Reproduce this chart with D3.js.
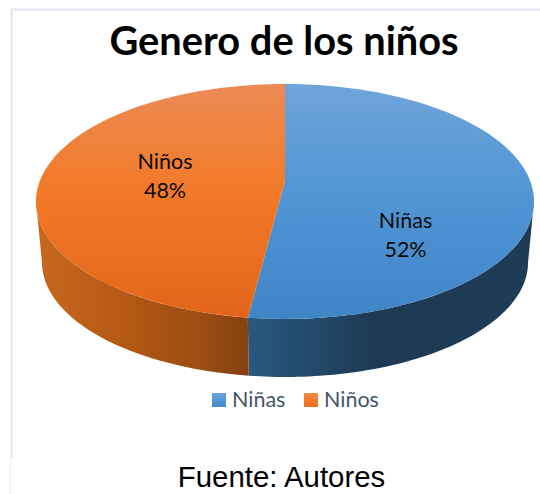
<!DOCTYPE html>
<html>
<head>
<meta charset="utf-8">
<script src="https://cdn.jsdelivr.net/npm/d3@7"></script>
<style>
  html, body { margin: 0; padding: 0; background: #fff; }
  svg { display: block; }
</style>
</head>
<body>
<svg width="540" height="494"></svg>
<script>
var categories = ["Niñas", "Niños"];
var values = [52, 48];
var percentLabels = ["52%", "48%"];

var svg = d3.select("svg");
var defs = svg.append("defs");

// the top face is a circle seen in perspective, so the pie centre
// sits above the middle of the ellipse
var cx = 285, centreY = 181;
var b = 245.2, a = 113.9, k = 0.1745;
var wallShrink = 0.976, wallCentreY = 242.3;

function project(theta, scale, y0) {
  var u = Math.sin(theta), v = -Math.cos(theta);
  var w = 1 / (1 - k * v);
  return [cx + scale * b * u * w, y0 + scale * a * v * w];
}

function arcPoints(t0, t1, scale, y0) {
  var n = 80;
  return d3.range(n + 1).map(function(i) {
    return project(t0 + (t1 - t0) * i / n, scale, y0);
  });
}

var line = d3.line();
var arcs = d3.pie().sort(null)(values);

// silhouette of the wall: where the ellipse is widest
var wallStart = Math.acos(-k), wallEnd = 2 * Math.PI - wallStart;

function gradient(id, horizontal, stops, userSpace) {
  var g = defs.append("linearGradient").attr("id", id)
    .attr("x1", 0).attr("y1", 0)
    .attr("x2", horizontal ? 1 : 0).attr("y2", horizontal ? 0 : 1);
  if (userSpace) {
    g.attr("gradientUnits", "userSpaceOnUse")
      .attr("x1", userSpace[0]).attr("x2", userSpace[1])
      .attr("y1", 0).attr("y2", 0);
  }
  stops.forEach(function(s) {
    g.append("stop").attr("offset", s[0]).attr("stop-color", s[1]);
  });
}

gradient("topBlue", false, [[0, "#70a4d9"], [0.45, "#5296d6"], [1, "#3f84c5"]]);
gradient("topOrange", false, [[0, "#ec8a55"], [0.45, "#f27a28"], [1, "#e4651a"]]);
gradient("wallBlue", true, [[0, "#28587f"], [0.45, "#1d3a55"], [1, "#1f3c57"]], [249, 530]);
gradient("wallOrange", true, [[0, "#c8681e"], [0.45, "#b25714"], [0.75, "#9c4e12"], [1, "#864010"]], [38, 249]);
gradient("legBlue", false, [[0, "#6aa4dd"], [1, "#4488cc"]]);
gradient("legOrange", false, [[0, "#f78a42"], [1, "#ec6e1c"]]);

var topFill = ["url(#topBlue)", "url(#topOrange)"];
var wallFill = ["url(#wallBlue)", "url(#wallOrange)"];
var legendFill = ["url(#legBlue)", "url(#legOrange)"];

// frame left over from the document
svg.append("path")
  .attr("d", "M11.5,458V9.5H540")
  .attr("fill", "none")
  .attr("stroke", "#e0e5ef")
  .attr("stroke-width", 2);
svg.append("line")
  .attr("x1", 10.5).attr("x2", 10.5).attr("y1", 458).attr("y2", 494)
  .attr("stroke", "#f0f0f0");

// walls
svg.append("g").selectAll("path")
  .data(arcs)
  .enter().append("path")
    .attr("fill", function(d, i) { return wallFill[i]; })
    .attr("d", function(d) {
      var t0 = Math.max(d.startAngle, wallStart), t1 = Math.min(d.endAngle, wallEnd);
      var pts = arcPoints(t0, t1, 1, centreY)
        .concat(arcPoints(t1, t0, wallShrink, wallCentreY));
      return line(pts) + "Z";
    });

// top face
svg.append("g").selectAll("path")
  .data(arcs)
  .enter().append("path")
    .attr("fill", function(d, i) { return topFill[i]; })
    .attr("d", function(d) {
      var pts = [[cx, centreY]].concat(arcPoints(d.startAngle, d.endAngle, 1, centreY));
      return line(pts) + "Z";
    });

// data labels
var labelX = [405.5, 165], labelY = [228, 169];
var labelG = svg.append("g")
    .attr("font-family", "Lato, 'Open Sans', sans-serif")
    .attr("font-size", 21.5)
    .attr("fill", "#0a0a0a")
    .attr("text-anchor", "middle");
categories.forEach(function(c, i) {
  labelG.append("text").attr("x", labelX[i]).attr("y", labelY[i]).text(c);
  labelG.append("text").attr("x", labelX[i]).attr("y", labelY[i] + 29).text(percentLabels[i]);
});

// title
svg.append("text")
  .attr("x", 284).attr("y", 55)
  .attr("text-anchor", "middle")
  .attr("font-family", "Lato, 'Open Sans', sans-serif")
  .attr("font-weight", 700)
  .attr("font-size", 39.8)
  .attr("fill", "#000")
  .text("Genero de los niños");

// legend
var legendX = [212, 304];
var legend = svg.append("g").selectAll("g")
  .data(categories)
  .enter().append("g")
    .attr("transform", function(d, i) { return "translate(" + legendX[i] + ",393)"; });
legend.append("rect")
  .attr("width", 14).attr("height", 14)
  .attr("fill", function(d, i) { return legendFill[i]; });
legend.append("text")
  .attr("x", 20).attr("y", 14)
  .attr("font-family", "Lato, 'Open Sans', sans-serif")
  .attr("font-size", 21.5)
  .attr("fill", "#44546a")
  .text(function(d) { return d; });

// source line
svg.append("text")
  .attr("x", 281.5).attr("y", 487)
  .attr("text-anchor", "middle")
  .attr("font-family", "'Liberation Sans', Arial, sans-serif")
  .attr("font-size", 29.4)
  .attr("fill", "#000")
  .text("Fuente: Autores");
</script>
</body>
</html>
